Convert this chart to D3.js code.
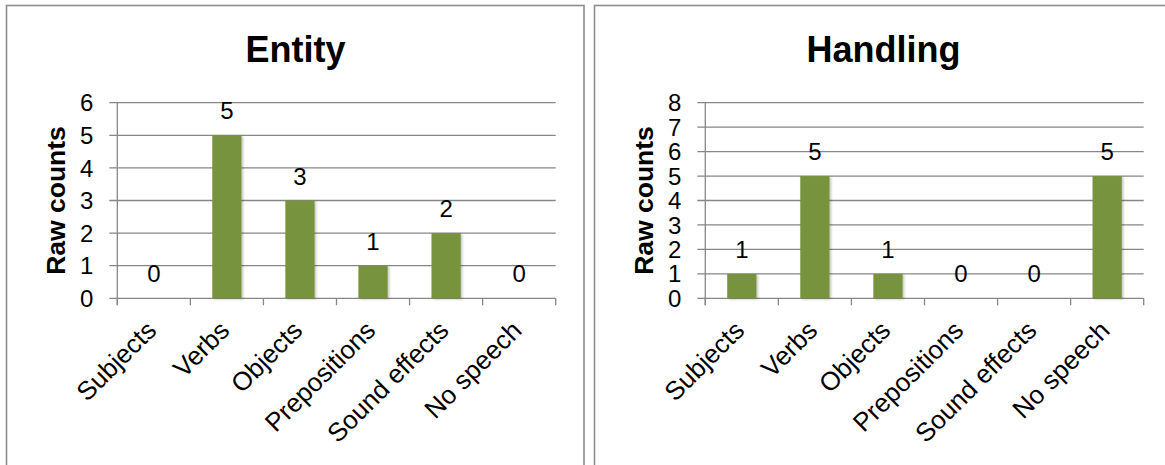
<!DOCTYPE html>
<html>
<head>
<meta charset="utf-8">
<script src="https://cdn.jsdelivr.net/npm/d3@7"></script>
<style>
  html, body { margin: 0; padding: 0; background: #ffffff; }
  svg { display: block; font-family: "Liberation Sans", Arial, sans-serif; }
</style>
</head>
<body>
<svg id="chart" width="1165" height="465"></svg>
<script>
// ---- data ----
const categories = ["Subjects", "Verbs", "Objects", "Prepositions", "Sound effects", "No speech"];
const entityValues = [0, 5, 3, 1, 2, 0];
const handlingValues = [1, 5, 1, 0, 0, 5];
const entityTicks = [0, 1, 2, 3, 4, 5, 6];
const handlingTicks = [0, 1, 2, 3, 4, 5, 6, 7, 8];
const titles = ["Entity", "Handling"];
const yAxisTitle = "Raw counts";

// ---- layout ----
const svg = d3.select("#chart");
const barColor = "#77933c";
const gridColor = "#878787";
const borderColor = "#8e8e8e";

const defs = svg.append("defs");
const f = defs.append("filter").attr("id", "shadow")
  .attr("x", "-20%").attr("y", "-20%").attr("width", "150%").attr("height", "150%");
f.append("feDropShadow").attr("dx", 1.5).attr("dy", 1).attr("stdDeviation", 1.2)
  .attr("flood-color", "#000").attr("flood-opacity", 0.25);

function drawPanel(offsetX, title, values, ticks) {
  const g = svg.append("g").attr("transform", `translate(${offsetX},0)`);

  // panel border
  g.append("rect")
    .attr("x", 6.5).attr("y", 5.5)
    .attr("width", 577.5).attr("height", 520)
    .attr("fill", "#fff")
    .attr("stroke", borderColor).attr("stroke-width", 1.6);

  const left = 117.3, right = 555.7, bottom = 298.3, top = 102.7;

  const x = d3.scaleBand().domain(categories).range([left, right])
    .paddingInner(0.6).paddingOuter(0.3);
  const y = d3.scaleLinear().domain([0, d3.max(ticks)]).range([bottom, top]);

  // title
  g.append("text")
    .attr("x", 295.5).attr("y", 61.7)
    .attr("text-anchor", "middle")
    .attr("font-size", 36).attr("font-weight", "bold")
    .attr("fill", "#000")
    .text(title);

  // gridlines + y tick marks
  g.append("g").selectAll("line").data(ticks).join("line")
    .attr("x1", left - 8).attr("x2", right)
    .attr("y1", d => y(d)).attr("y2", d => y(d))
    .attr("stroke", gridColor).attr("stroke-width", 1.3);

  // y axis line
  g.append("line")
    .attr("x1", left).attr("x2", left)
    .attr("y1", top).attr("y2", bottom + 7)
    .attr("stroke", gridColor).attr("stroke-width", 1.3);

  // x tick marks at band boundaries
  const step = x.step();
  const bounds = d3.range(categories.length + 1).map(i => left + i * step);
  g.append("g").selectAll("line").data(bounds).join("line")
    .attr("x1", d => d).attr("x2", d => d)
    .attr("y1", bottom).attr("y2", bottom + 7)
    .attr("stroke", gridColor).attr("stroke-width", 1.3);

  // y tick labels
  g.append("g").selectAll("text").data(ticks).join("text")
    .attr("x", left - 24).attr("y", d => y(d))
    .attr("dy", "0.36em")
    .attr("text-anchor", "end")
    .attr("font-size", 24)
    .attr("fill", "#000")
    .text(d => d);

  // y axis title
  g.append("text")
    .attr("transform", `translate(65,${(top + bottom) / 2}) rotate(-90)`)
    .attr("text-anchor", "middle")
    .attr("font-size", 26.5).attr("font-weight", "bold")
    .attr("fill", "#000")
    .text(yAxisTitle);

  // bars
  const data = categories.map((c, i) => ({ c, v: values[i] }));
  g.append("g").selectAll("rect").data(data.filter(d => d.v > 0)).join("rect")
    .attr("x", d => x(d.c)).attr("width", x.bandwidth())
    .attr("y", d => y(d.v)).attr("height", d => y(0) - y(d.v))
    .attr("fill", barColor)
    .attr("filter", "url(#shadow)");

  // data labels
  g.append("g").selectAll("text").data(data).join("text")
    .attr("x", d => x(d.c) + x.bandwidth() / 2)
    .attr("y", d => y(d.v) - 16)
    .attr("text-anchor", "middle")
    .attr("font-size", 24)
    .attr("fill", "#000")
    .text(d => d.v);

  // x labels rotated
  g.append("g").selectAll("text").data(categories).join("text")
    .attr("transform", d => `translate(${x(d) + x.bandwidth() / 2 + 4},332) rotate(-45)`)
    .attr("text-anchor", "end")
    .attr("font-size", 26)
    .attr("fill", "#000")
    .text(d => d);
}

drawPanel(0, titles[0], entityValues, entityTicks);
drawPanel(588, titles[1], handlingValues, handlingTicks);
</script>
</body>
</html>
